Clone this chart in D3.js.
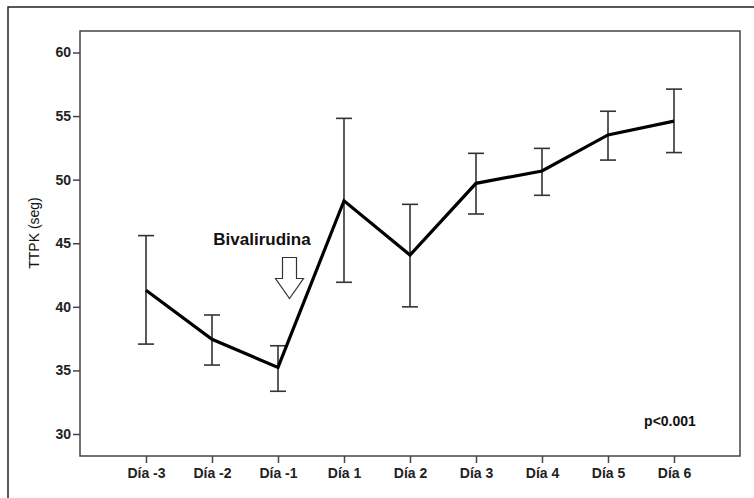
<!DOCTYPE html>
<html><head><meta charset="utf-8">
<script src="https://cdn.jsdelivr.net/npm/d3@7"></script>
<style>body{margin:0;background:#fff}svg{display:block}text{font-family:"Liberation Sans",Arial,sans-serif}</style>
</head><body><svg id="c" width="754" height="498"></svg>
<script>
const categories = ["Día -3","Día -2","Día -1","Día 1","Día 2","Día 3","Día 4","Día 5","Día 6"];
const means = [41.3, 37.45, 35.24, 48.34, 44.07, 49.71, 50.68, 53.52, 54.6];
const upper = [45.6, 39.36, 36.94, 54.82, 48.06, 52.07, 52.46, 55.38, 57.12];
const lower = [37.07, 35.42, 33.36, 41.93, 40.0, 47.3, 48.77, 51.54, 52.13];
const yTicks = [30, 35, 40, 45, 50, 55, 60];

const svg = d3.select("#c");
const L = 80, R = 740, T = 31, B = 456;
const x = d3.scalePoint().domain(categories).range([L, R]).padding(1);
const y = d3.scaleLinear().domain([28.27, 61.69]).range([B, T]);

// outer frame
svg.append("rect").attr("x", 8).attr("y", 7).attr("width", 760).attr("height", 510)
  .attr("fill", "none").attr("stroke", "#222").attr("stroke-width", 1.5);

// plot frame
svg.append("rect").attr("x", L).attr("y", T).attr("width", R - L).attr("height", B - T)
  .attr("fill", "none").attr("stroke", "#444").attr("stroke-width", 1.5);

const yAxis = svg.append("g").attr("transform", `translate(${L},0)`)
  .call(d3.axisLeft(y).tickValues(yTicks).tickSize(7).tickPadding(2));
const xAxis = svg.append("g").attr("transform", `translate(0,${B})`)
  .call(d3.axisBottom(x).tickSize(7).tickPadding(5));
[yAxis, xAxis].forEach(a => {
  a.select(".domain").remove();
  a.selectAll(".tick line").attr("stroke", "#444").attr("stroke-width", 1.5);
  a.selectAll("text").attr("font-size", 14).attr("font-weight", "bold").attr("fill", "#222")
    .style("font-family", '"Liberation Sans",Arial,sans-serif');
});

svg.append("text").attr("transform", `translate(39,233) rotate(-90)`)
  .attr("text-anchor", "middle").attr("font-size", 14)
  .style("fill", "#111").text("TTPK (seg)");

// error bars
const cap = 8;
const eb = svg.append("g").attr("stroke", "#333").attr("stroke-width", 1.6).attr("fill", "none");
categories.forEach((c, i) => {
  const cx = x(c);
  eb.append("line").attr("x1", cx).attr("x2", cx).attr("y1", y(upper[i])).attr("y2", y(lower[i]));
  eb.append("line").attr("x1", cx - cap).attr("x2", cx + cap).attr("y1", y(upper[i])).attr("y2", y(upper[i]));
  eb.append("line").attr("x1", cx - cap).attr("x2", cx + cap).attr("y1", y(lower[i])).attr("y2", y(lower[i]));
});

// mean line
svg.append("path").datum(means)
  .attr("d", d3.line().x((d, i) => x(categories[i])).y(d => y(d)))
  .attr("fill", "none").attr("stroke", "#000").attr("stroke-width", 3.2).attr("stroke-linejoin", "miter");

// annotation
svg.append("text").attr("x", 262).attr("y", 245).attr("text-anchor", "middle")
  .attr("font-size", 17).attr("font-weight", "bold").attr("fill", "#111").text("Bivalirudina");
const ax = 289.5, at = 257.5;
const arrow = [[ax - 7, at], [ax + 7, at], [ax + 7, at + 21], [ax + 14, at + 21], [ax, at + 41], [ax - 14, at + 21], [ax - 7, at + 21]];
svg.append("path").attr("d", d3.line()(arrow) + "Z").attr("fill", "#fff").attr("stroke", "#333").attr("stroke-width", 1.2);

svg.append("text").attr("x", 670).attr("y", 426).attr("text-anchor", "middle")
  .attr("font-size", 14).attr("font-weight", "bold").attr("fill", "#111").text("p<0.001");
</script></body></html>
